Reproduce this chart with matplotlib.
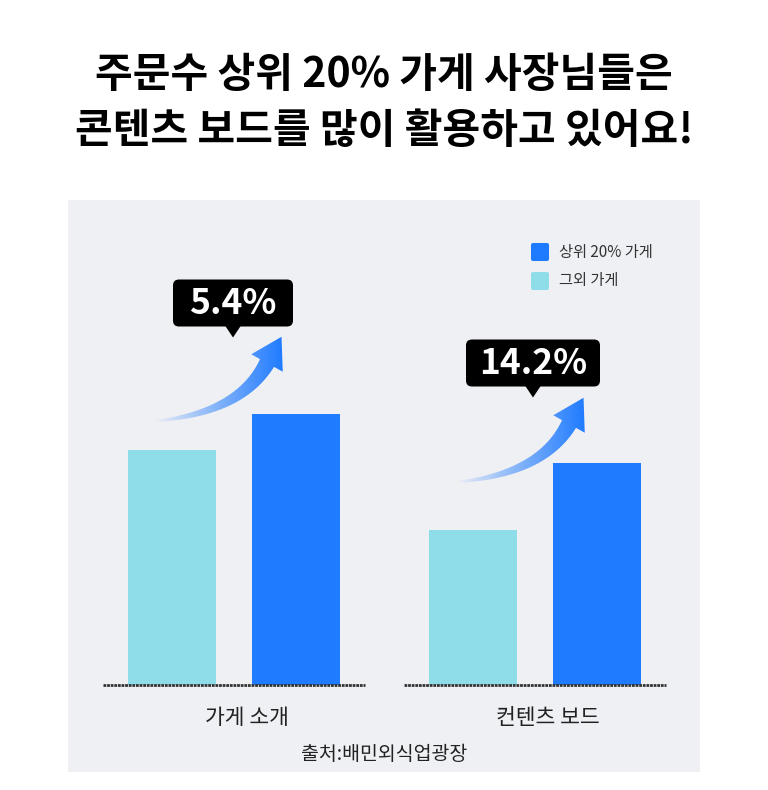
import numpy as np
import matplotlib
matplotlib.use("Agg")
import matplotlib.pyplot as plt
from matplotlib.patches import Rectangle, FancyBboxPatch, Polygon, PathPatch
from matplotlib.path import Path

plt.rcParams['font.family'] = ['Noto Sans CJK KR', 'DejaVu Sans']

categories = ['가게 소개', '컨텐츠 보드']
series_names = ['그외 가게', '상위 20% 가게']
other_vals = [235, 155]
top_vals = [271, 222]
uplift_labels = ['5.4%', '14.2%']
colors = ['#8fdde8', '#1f7bff']

fig = plt.figure(figsize=(7.68, 7.9), dpi=100)
W, H = 768, 790

bg = fig.add_axes([0, 0, 1, 1], zorder=0)
bg.set_xlim(0, W); bg.set_ylim(H, 0); bg.axis('off')
bg.add_patch(Rectangle((68, 200), 632, 572, facecolor='#eff0f4', edgecolor='none'))

axb = fig.add_axes([68/W, (H-685)/H, 632/W, 485/H], zorder=1)
axb.set_xlim(68, 700); axb.set_ylim(0, 485)
axb.patch.set_alpha(0); axb.axis('off')
group_x = [234, 535]
bw = 88
for i, gx in enumerate(group_x):
    axb.bar(gx - 62, other_vals[i], width=bw, color=colors[0], zorder=2)
    axb.bar(gx + 62, top_vals[i], width=bw, color=colors[1], zorder=2)
    axb.plot([gx - 131, gx + 131], [0, 0], color='#333333', lw=2, ls=(0, (1, 0.3)), zorder=3, clip_on=False)

ax = fig.add_axes([0, 0, 1, 1], zorder=2)
ax.set_xlim(0, W); ax.set_ylim(H, 0); ax.axis('off'); ax.patch.set_alpha(0)

ax.text(384, 75, '주문수 상위 20% 가게 사장님들은', ha='center', va='center', fontsize=29.5, fontweight='bold')
ax.text(384, 131, '콘텐츠 보드를 많이 활용하고 있어요!', ha='center', va='center', fontsize=29.5, fontweight='bold')

for i, gx in enumerate(group_x):
    ax.text(gx + 13, 718, categories[i], ha='center', va='center', fontsize=15.5, color='#222222')
ax.text(384, 755, '출처:배민외식업광장', ha='center', va='center', fontsize=14, color='#222222')

for c, name, y in [(colors[1], series_names[1], 252), (colors[0], series_names[0], 281)]:
    ax.add_patch(FancyBboxPatch((531, y-9), 18, 18, boxstyle='round,pad=0,rounding_size=2', facecolor=c, edgecolor='none'))
    ax.text(559, y, name, ha='left', va='center', fontsize=11, color='#333333')

def arrow(x0, y0):
    P0 = np.array([x0, y0]); C = np.array([x0+85, y0-8]); P1 = np.array([x0+112, y0-58])
    t = np.linspace(0, 1, 60)
    pts = ((1-t)**2)[:, None]*P0 + (2*(1-t)*t)[:, None]*C + (t**2)[:, None]*P1
    d = np.gradient(pts, axis=0); d /= np.linalg.norm(d, axis=1)[:, None]
    n = np.stack([-d[:, 1], d[:, 0]], axis=1)
    w = 1 + 7*t
    left = pts + n*w[:, None]; right = pts - n*w[:, None]
    e = pts[-1]; de = d[-1]; ne = n[-1]
    tip = e + de*30
    hl = e + ne*18; hr = e - ne*18
    verts = np.vstack([left, [hl], [tip], [hr], right[::-1], [left[0]]])
    patch = PathPatch(Path(verts, closed=True), facecolor='none', edgecolor='none')
    ax.add_patch(patch)
    xs = np.linspace(0, 1, 200)
    grad = np.zeros((1, 200, 4))
    grad[0, :, :3] = np.array(matplotlib.colors.to_rgb(colors[1]))
    grad[0, :, 3] = xs**0.9
    xmin, xmax = verts[:, 0].min(), verts[:, 0].max()
    ymin, ymax = verts[:, 1].min(), verts[:, 1].max()
    im = ax.imshow(grad, extent=[xmin, xmax, ymax, ymin], aspect='auto', zorder=4)
    im.set_clip_path(patch)
    ax.set_xlim(0, W); ax.set_ylim(H, 0)

def callout(cx, cy, w, text):
    h = 47
    ax.add_patch(FancyBboxPatch((cx-w/2, cy-h/2), w, h, boxstyle='round,pad=0,rounding_size=6',
                                facecolor='black', edgecolor='none', zorder=5))
    ax.add_patch(Polygon([[cx-8, cy+h/2-1], [cx+8, cy+h/2-1], [cx, cy+h/2+11]], closed=True,
                         facecolor='black', edgecolor='none', zorder=5))
    ax.text(cx, cy+1, text, ha='center', va='center', color='white', fontsize=25.5, fontweight='bold', zorder=6)

arrow(155, 421)
arrow(457, 482)
callout(233, 303, 120, uplift_labels[0])
callout(533, 363, 134, uplift_labels[1])

fig.savefig('out.png', dpi=100, facecolor='white')
